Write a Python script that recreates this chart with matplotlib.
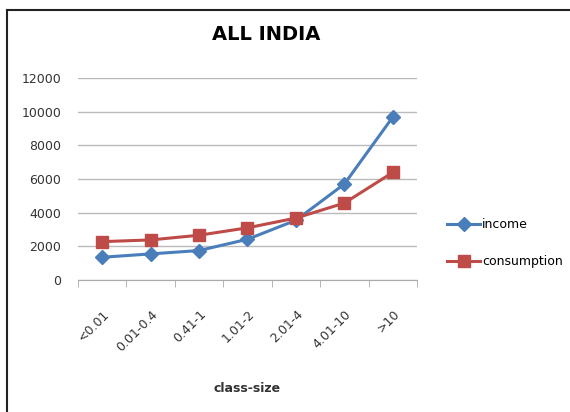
import numpy as np
import matplotlib.pyplot as plt
from matplotlib.lines import Line2D

# datos
clases = ['<0.01', '0.01-0.4', '0.41-1', '1.01-2', '2.01-4', '4.01-10', '>10']
income = [1350, 1550, 1750, 2420, 3550, 5700, 9680]
consumption = [2280, 2380, 2660, 3100, 3680, 4570, 6390]
yticks = [0, 2000, 4000, 6000, 8000, 10000, 12000]

W, H = 570, 412
fig = plt.figure(figsize=(W/100, H/100), dpi=100)
ax = fig.add_axes([78/W, 1 - 280/H, (417-78)/W, (280-78)/H])

x = np.arange(len(clases))
ax.plot(x, income, color='#4A7EBB', lw=2.2, marker='D', ms=7, label='income')
ax.plot(x, consumption, color='#BE4B48', lw=2.2, marker='s', ms=8.5, label='consumption')

ax.set_xlim(-0.5, len(clases) - 0.5)
ax.set_ylim(0, 12000)
ax.set_yticks(yticks)
ax.set_yticklabels([str(v) for v in yticks], fontsize=9, color='#333333')
ax.set_xticks(np.arange(len(clases) + 1) - 0.5, minor=True)
ax.set_xticks(x)
ax.set_xticklabels(clases, rotation=45, ha='right', rotation_mode='anchor', fontsize=9, color='#333333')
ax.tick_params(axis='x', which='major', length=0, pad=20)
ax.tick_params(axis='x', which='minor', length=5, color='#AAAAAA')
ax.tick_params(axis='y', length=0, pad=12)
ax.grid(axis='y', color='#BBBBBB', lw=1)
ax.set_axisbelow(True)
for s in ['top', 'right', 'left']:
    ax.spines[s].set_visible(False)
ax.spines['bottom'].set_color('#AAAAAA')

ax.set_xlabel('class-size', fontsize=9, fontweight='bold', color='#333333', labelpad=20)
fig.text(266/W, 1 - 35/H, 'ALL INDIA', ha='center', va='center', fontsize=14, fontweight='bold')

fig.legend(loc='center left', bbox_to_anchor=(436/W, 1 - 243/H), frameon=False, fontsize=9,
           handlelength=2.6, handletextpad=0.2, labelspacing=1.9)

# marco del grafico
fig.add_artist(Line2D([7/W, 7/W], [0, 1 - 10/H], color='#222222', lw=1.5))
fig.add_artist(Line2D([7/W, 1], [1 - 10/H, 1 - 10/H], color='#222222', lw=1.5))

plt.savefig('out.png', dpi=100)
